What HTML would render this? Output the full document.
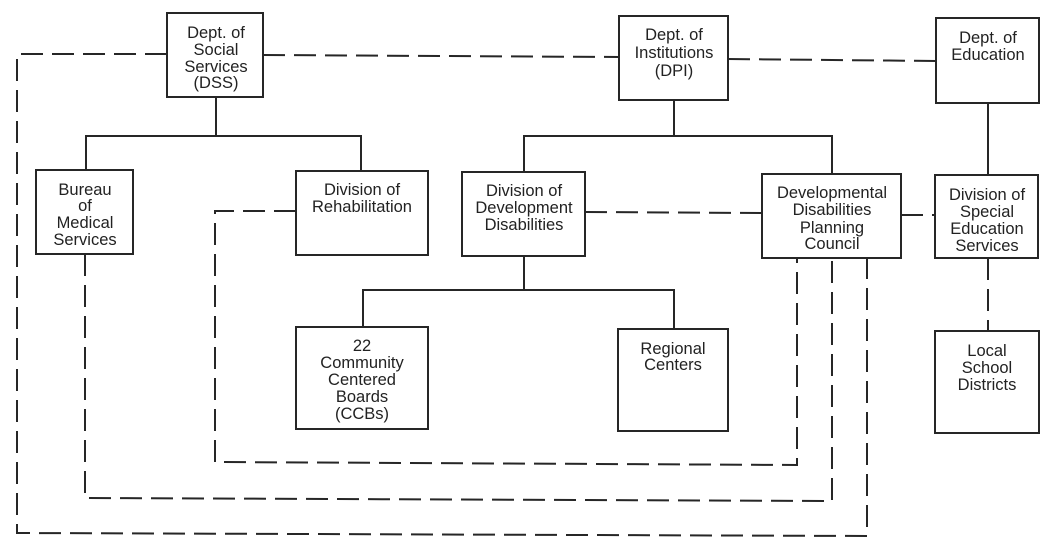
<!DOCTYPE html>
<html><head><meta charset="utf-8"><style>
html,body{margin:0;padding:0;background:#fff;}
svg{display:block;}
text{font-family:"Liberation Sans",Arial,sans-serif;font-size:16.5px;fill:#222;text-anchor:middle;}
</style></head><body>
<svg width="1056" height="549" viewBox="0 0 1056 549" xmlns="http://www.w3.org/2000/svg">
<rect width="1056" height="549" fill="#fff"/>
<g fill="none" stroke="#262626" stroke-width="2" stroke-dasharray="22 9">
<path d="M167 54 H17 V533 L867 536 V258"/>
<path d="M85 254 V498 L832 501 V258"/>
<path d="M296 211 H215 V462 L797 465 V258"/>
<path d="M263 55 L619 57"/>
<path d="M728 59 L936 61"/>
<path d="M585 212 L762 213"/>
<path d="M901 215 H935"/>
<path d="M988 258 V331"/>
</g>
<g fill="none" stroke="#262626" stroke-width="2">
<path d="M216 97 V136"/>
<path d="M86 170 V136 H361 V171"/>
<path d="M674 100 V136"/>
<path d="M524 172 V136 H832 V174"/>
<path d="M988 103 V175"/>
<path d="M524 256 V290"/>
<path d="M363 327 V290 H674 V329"/>
</g>
<g fill="#fff" stroke="#262626" stroke-width="2">
<rect x="167" y="13" width="96" height="84"/>
<rect x="36" y="170" width="97" height="84"/>
<rect x="296" y="171" width="132" height="84"/>
<rect x="619" y="16" width="109" height="84"/>
<rect x="462" y="172" width="123" height="84"/>
<rect x="762" y="174" width="139" height="84"/>
<rect x="936" y="18" width="103" height="85"/>
<rect x="935" y="175" width="103" height="83"/>
<rect x="296" y="327" width="132" height="102"/>
<rect x="618" y="329" width="110" height="102"/>
<rect x="935" y="331" width="104" height="102"/>
</g>
<text x="216" y="38">Dept. of</text>
<text x="216" y="55">Social</text>
<text x="216" y="72">Services</text>
<text x="216" y="88">(DSS)</text>

<text x="85" y="195">Bureau</text>
<text x="85" y="211">of</text>
<text x="85" y="228">Medical</text>
<text x="85" y="245">Services</text>

<text x="362" y="195">Division of</text>
<text x="362" y="212">Rehabilitation</text>

<text x="674" y="40">Dept. of</text>
<text x="674" y="58">Institutions</text>
<text x="674" y="76">(DPI)</text>

<text x="524" y="196">Division of</text>
<text x="524" y="213">Development</text>
<text x="524" y="230">Disabilities</text>

<text x="832" y="198">Developmental</text>
<text x="832" y="215">Disabilities</text>
<text x="832" y="233">Planning</text>
<text x="832" y="249">Council</text>

<text x="988" y="43">Dept. of</text>
<text x="988" y="60">Education</text>

<text x="987" y="200">Division of</text>
<text x="987" y="217">Special</text>
<text x="987" y="234">Education</text>
<text x="987" y="251">Services</text>

<text x="362" y="351">22</text>
<text x="362" y="368">Community</text>
<text x="362" y="385">Centered</text>
<text x="362" y="402">Boards</text>
<text x="362" y="419">(CCBs)</text>

<text x="673" y="354">Regional</text>
<text x="673" y="370">Centers</text>

<text x="987" y="356">Local</text>
<text x="987" y="373">School</text>
<text x="987" y="390">Districts</text>
</svg>
</body></html>
